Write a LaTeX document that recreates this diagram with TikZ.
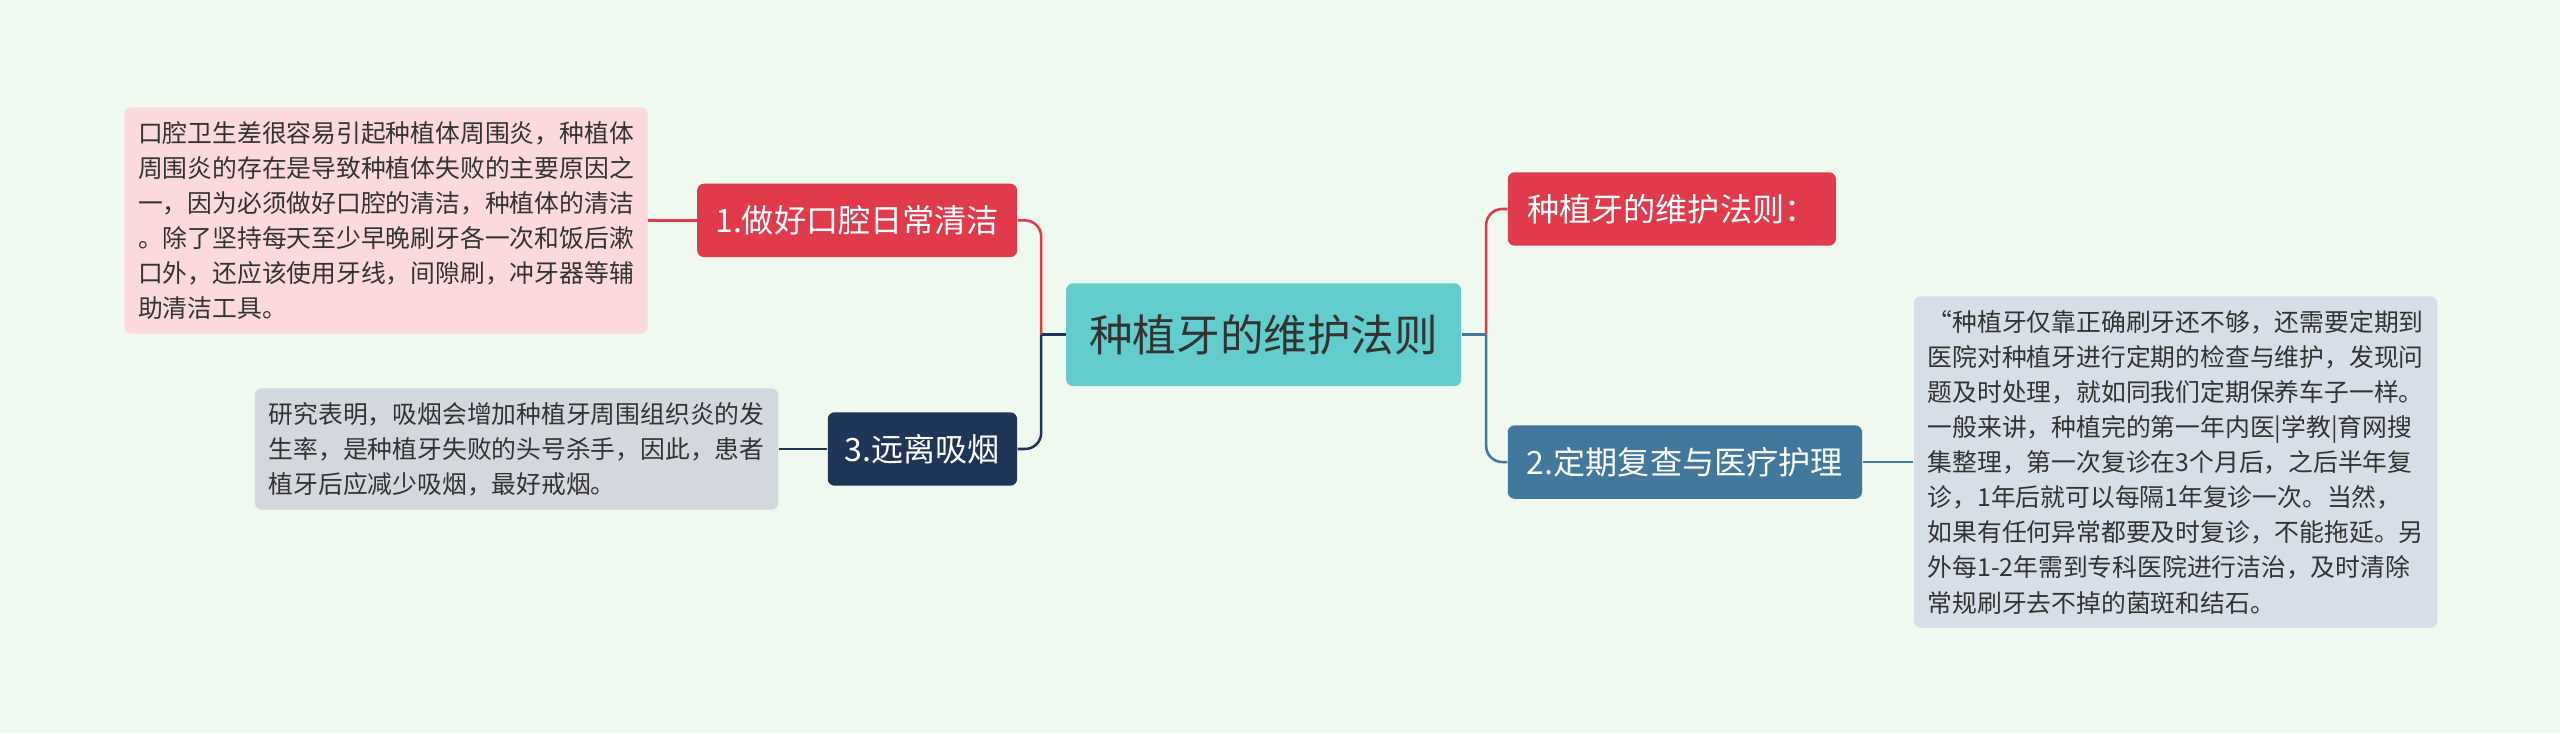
\documentclass[tikz,border=0pt]{standalone}
\usepackage{fontspec}
\setmainfont{Noto Sans CJK SC}
\definecolor{bg}{HTML}{F0F9EF}
\definecolor{rootc}{HTML}{63CDCD}
\definecolor{redc}{HTML}{E13A4A}
\definecolor{navyc}{HTML}{1F3558}
\definecolor{bluec}{HTML}{41789C}
\definecolor{pinkc}{HTML}{FBD9DC}
\definecolor{greyc}{HTML}{D3D8DF}
\definecolor{lbluec}{HTML}{D6DFE8}
\definecolor{txtc}{HTML}{333333}
\tikzset{
  rootbox/.style={fill=rootc, rounded corners=3pt, text=txtc, font=\fontsize{19}{22}\selectfont,
    minimum width=242*0.025cm, minimum height=63*0.025cm},
  branchbox/.style={rounded corners=3pt, text=white, font=\fontsize{14}{16}\selectfont,
    minimum height=45*0.025cm, inner xsep=3pt},
  leafbox/.style={rounded corners=3pt, text=txtc, font=\fontsize{10.8}{15.3}\selectfont,
    align=left, inner xsep=6pt, inner ysep=6pt},
  link/.style={line width=1.1pt, rounded corners=7pt},
}
\begin{document}
\begin{tikzpicture}[x={(0.025cm,0)}, y={(0,-0.025cm)}]
\fill[bg] (0,0) rectangle (1568,449);
\useasboundingbox (0,0) rectangle (1568,449);
% root
\node[rootbox] (root) at (774,205) {种植牙的维护法则};
% branches
\node[branchbox, fill=redc, minimum width=196*0.025cm] (clean) at (525,135) {1.做好口腔日常清洁};
\node[branchbox, fill=navyc, minimum width=116*0.025cm] (smoke) at (565,275) {3.远离吸烟};
\node[branchbox, fill=redc, minimum width=201*0.025cm] (rule) at (1024,128) {种植牙的维护法则：};
\node[branchbox, fill=bluec, minimum width=217*0.025cm] (check) at (1032,283) {2.定期复查与医疗护理};
% leaves
\node[leafbox, fill=pinkc, anchor=east] (cleantxt) at (397,135) {口腔卫生差很容易引起种植体周围炎，种植体\\周围炎的存在是导致种植体失败的主要原因之\\一，因为必须做好口腔的清洁，种植体的清洁\\。除了坚持每天至少早晚刷牙各一次和饭后漱\\口外，还应该使用牙线，间隙刷，冲牙器等辅\\助清洁工具。};
\node[leafbox, fill=greyc, anchor=east] (smoketxt) at (477,275) {研究表明，吸烟会增加种植牙周围组织炎的发\\生率，是种植牙失败的头号杀手，因此，患者\\植牙后应减少吸烟，最好戒烟。};
\node[leafbox, fill=lbluec, anchor=west] (checktxt) at (1172,283) {“种植牙仅靠正确刷牙还不够，还需要定期到\\医院对种植牙进行定期的检查与维护，发现问\\题及时处理，就如同我们定期保养车子一样。\\一般来讲，种植完的第一年内医|学教|育网搜\\集整理，第一次复诊在3个月后，之后半年复\\诊，1年后就可以每隔1年复诊一次。当然，\\如果有任何异常都要及时复诊，不能拖延。另\\外每1-2年需到专科医院进行洁治，及时清除\\常规刷牙去不掉的菌斑和结石。};
% connectors
\draw[link, navyc] (root.west) -- ++(-15,0) coordinate (lj);
\draw[link, redc] (lj) |- (clean.east);
\draw[link, navyc] (lj) |- (smoke.east);
\draw[link, bluec] (root.east) -- ++(15,0) coordinate (rj);
\draw[link, redc] (rj) |- (rule.west);
\draw[link, bluec] (rj) |- (check.west);
\draw[link, redc] (clean.west) -- (cleantxt.east);
\draw[link, navyc] (smoke.west) -- (smoketxt.east);
\draw[link, bluec] (check.east) -- (checktxt.west);
\end{tikzpicture}
\end{document}
